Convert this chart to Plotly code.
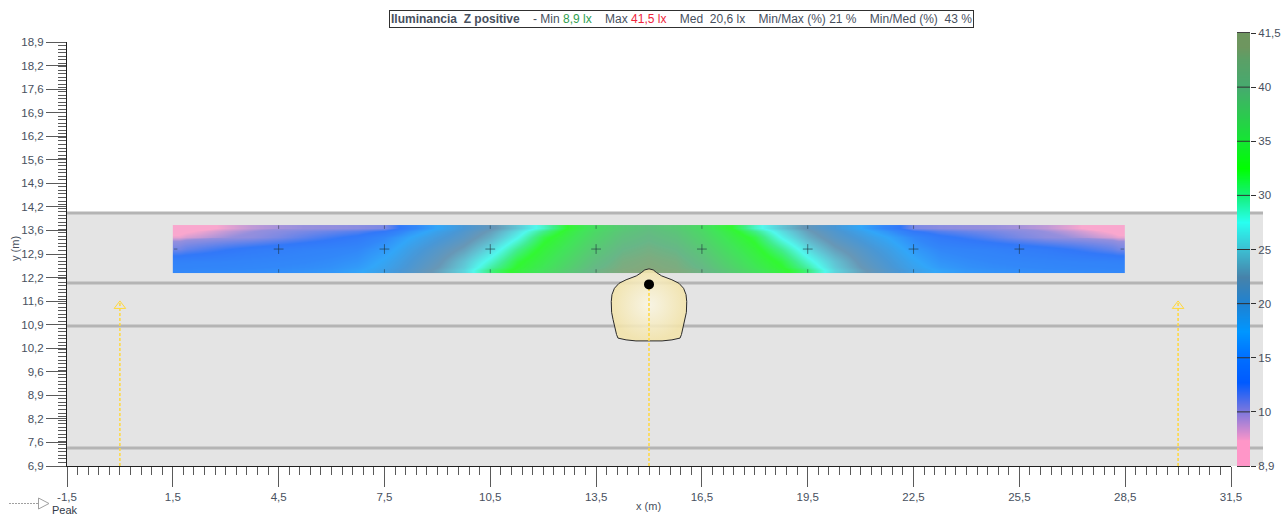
import plotly.graph_objects as go

# ---------- data ----------
x_major = [-1.5, 1.5, 4.5, 7.5, 10.5, 13.5, 16.5, 19.5, 22.5, 25.5, 28.5, 31.5]
x_major_labels = ["-1,5", "1,5", "4,5", "7,5", "10,5", "13,5", "16,5", "19,5", "22,5", "25,5", "28,5", "31,5"]
x_medium = [0, 3, 6, 9, 12, 15, 18, 21, 24, 27, 30]
y_major = [6.9, 7.567, 8.233, 8.9, 9.567, 10.233, 10.9, 11.567, 12.233, 12.9, 13.567,
           14.233, 14.9, 15.567, 16.233, 16.9, 17.567, 18.233, 18.9]
y_major_labels = ["6,9", "7,6", "8,2", "8,9", "9,6", "10,2", "10,9", "11,6", "12,2", "12,9", "13,6",
                  "14,2", "14,9", "15,6", "16,2", "16,9", "17,6", "18,2", "18,9"]
y_medium = [7.233, 7.9, 8.567, 9.233, 9.9, 10.567, 11.233, 11.9, 12.567, 13.233, 13.9,
            14.567, 15.233, 15.9, 16.567, 17.233, 17.9, 18.567]

road_top = 14.06
road_bottom = 6.9
road_lines = [14.06, 12.08, 10.86, 7.41]

grid_x = [1.5, 2.25, 3, 3.75, 4.5, 5.25, 6, 6.75, 7.5, 8.25, 9, 9.75, 10.5, 11.25, 12, 12.75, 13.5, 14.25, 15,
          15.75, 16.5, 17.25, 18, 18.75, 19.5, 20.25, 21, 21.75, 22.5, 23.25, 24, 24.75, 25.5, 26.25, 27, 27.75, 28.5]
grid_y = [12.36, 12.70, 13.04, 13.38, 13.72]
# Left half, x = 1.5 ... 15; the calculation grid is symmetric about x = 15
row_1236 = [15.0, 15.1, 15.2, 15.3, 15.5, 15.8, 16.2, 17.2, 18.8, 20.8, 23.0, 25.8, 30.5, 33.2, 35.5, 38.0, 40.3, 41.2, 41.5]
row_1270 = [14.2, 14.3, 14.4, 14.6, 14.8, 15.0, 15.4, 16.0, 17.8, 20.0, 22.0, 24.8, 28.2, 32.0, 34.3, 36.8, 39.3, 40.8, 41.2]
row_1304 = [11.0, 11.8, 12.6, 13.3, 13.8, 14.2, 14.5, 15.0, 16.5, 19.0, 21.0, 23.0, 26.0, 30.0, 33.2, 35.6, 38.2, 40.0, 40.6]
row_1338 = [9.5, 9.7, 9.95, 10.2, 10.8, 11.6, 12.4, 13.2, 15.0, 17.5, 19.5, 21.3, 23.8, 27.3, 31.8, 34.4, 37.0, 39.0, 39.8]
row_1372 = [8.9, 9.2, 9.5, 9.75, 9.9, 10.0, 10.1, 10.3, 10.7, 14.5, 17.5, 20.0, 22.0, 25.0, 28.5, 33.0, 36.0, 38.0, 39.0]

points_x = [4.5, 7.5, 10.5, 13.5, 16.5, 19.5, 22.5, 25.5]
points_y = [13.04] * 8
edge_ticks_x = [1.58, 28.42]

scale_values = [8.9, 9.4, 10, 12.75, 15, 17.5, 20, 22.5, 25, 27.5, 30, 32.5, 35, 40, 41.5]
scale_colors = ["#ff96c8", "#ff96c8", "#8078dc", "#005aff", "#006eff", "#0096ff", "#1e82d2", "#4682aa",
                "#3cbed2", "#28fff0", "#14f078", "#00ff00", "#14e632", "#46aa6e", "#6e965f"]
bar_values = [8.9, 10, 15, 20, 25, 30, 35, 40, 41.5]
bar_labels = ["8,9", "10", "15", "20", "25", "30", "35", "40", "41,5"]
bar_positions = [0, 1, 2, 3, 4, 5, 6, 7, 8]

peak_x = [15.0, 14.88, 14.78, 14.64, 14.35, 14.15, 14.02, 13.95, 13.93, 13.94, 13.98, 14.01, 14.05, 14.08, 14.12, 14.35, 14.63, 15.0,
          15.37, 15.65, 15.88, 15.92, 15.95, 15.99, 16.02, 16.06, 16.07, 16.05, 15.98, 15.85, 15.65, 15.36, 15.22, 15.12, 15.0]
peak_y = [12.48, 12.45, 12.37, 12.28, 12.17, 12.07, 11.93, 11.75, 11.55, 11.25, 11.05, 10.9, 10.75, 10.62, 10.52, 10.47, 10.44, 10.45,
          10.44, 10.47, 10.52, 10.62, 10.75, 10.9, 11.05, 11.25, 11.55, 11.75, 11.93, 12.07, 12.17, 12.28, 12.37, 12.45, 12.48]
peak_dot = (15.0, 12.04)
arrow_x = [0.0, 30.0]
arrow_tip_y = 11.57
arrow_head_y = 11.43

# ---------- page geometry ----------
W, H = 1286, 516
L, R, T, B = 67, 1263, 33, 466
def px(v): return (v - L) / (R - L)
def py(v): return (B - v) / (B - T)

def edges(c):
    return [c[0]] + [(a + b) / 2 for a, b in zip(c, c[1:])] + [c[-1]]

def sym(row):
    return row + row[-2::-1]

lo, hi = scale_values[0], scale_values[-1]
colorscale = [[(v - lo) / (hi - lo), c] for v, c in zip(scale_values, scale_colors)]
z_rows = [sym(r) for r in (row_1236, row_1270, row_1304, row_1338, row_1372)]

AX = "#5a5a5a"
TXT = "#47505e"
YEL = "#ffd83c"
fig = go.Figure()

fig.add_trace(go.Heatmap(x=edges(grid_x), y=edges(grid_y), z=z_rows, zmin=lo, zmax=hi, zsmooth="best",
                         colorscale=colorscale, showscale=False, opacity=0.78, hoverinfo="skip"))
fig.add_trace(go.Scatter(x=points_x, y=points_y, mode="markers", hoverinfo="skip",
                         marker=dict(symbol="cross-thin", size=7, line=dict(width=1, color="rgba(30,50,60,0.6)"))))
for yy in (grid_y[0] + 0.06, grid_y[-1] - 0.06):
    fig.add_trace(go.Scatter(x=points_x, y=[yy] * len(points_x), mode="markers", hoverinfo="skip",
                             marker=dict(symbol="line-ns", size=2.5, line=dict(width=1, color="rgba(30,50,60,0.5)"))))
fig.add_trace(go.Scatter(x=edge_ticks_x, y=[13.04, 13.04], mode="markers", hoverinfo="skip",
                         marker=dict(symbol="line-ew", size=2.5, line=dict(width=1, color="rgba(30,50,60,0.5)"))))
fig.add_trace(go.Scatter(x=peak_x, y=peak_y, mode="lines", fill="toself", hoverinfo="skip",
                         line=dict(color="#2a2a2a", width=1),
                         fillgradient=dict(type="radial", colorscale=[[0, "rgba(250,246,228,0.88)"], [1, "rgba(243,228,170,0.88)"]])))
for ax_x in arrow_x:
    fig.add_trace(go.Scatter(x=[ax_x, ax_x], y=[road_bottom, arrow_tip_y], mode="lines", hoverinfo="skip",
                             line=dict(color=YEL, width=1.5, dash="3px,2px")))
    fig.add_trace(go.Scatter(x=[ax_x], y=[arrow_head_y], mode="markers", hoverinfo="skip",
                             marker=dict(symbol="triangle-up-open", size=10, color=YEL, line=dict(width=1, color=YEL))))
fig.add_trace(go.Scatter(x=[peak_dot[0], peak_dot[0]], y=[road_bottom, peak_dot[1]], mode="lines", hoverinfo="skip",
                         line=dict(color=YEL, width=1.5, dash="3px,2px")))
fig.add_trace(go.Scatter(x=[peak_dot[0]], y=[peak_dot[1]], mode="markers", hoverinfo="skip",
                         marker=dict(size=10, color="black")))

# vertical scale: its nine labelled levels are evenly spaced
fig.add_trace(go.Heatmap(x=[0, 0.5, 1], y=edges(bar_positions), z=[[v, v] for v in bar_values],
                         zmin=lo, zmax=hi, zsmooth="best", colorscale=colorscale, showscale=False,
                         xaxis="x3", yaxis="y3", hoverinfo="skip"))

shapes = [dict(type="rect", xref="paper", yref="y", x0=0, x1=1, y0=road_bottom, y1=road_top,
               fillcolor="#e4e4e4", line_width=0, layer="below")]
for yy in road_lines:
    shapes.append(dict(type="line", xref="paper", yref="y", x0=0, x1=1, y0=yy, y1=yy,
                       line=dict(color="#b4b4b4", width=3), layer="below"))
for p in bar_positions[1:-1]:
    shapes.append(dict(type="line", xref="x3", yref="y3", x0=0, x1=1, y0=p, y1=p,
                       line=dict(color="#303030", width=1), layer="above"))
# Peak key
shapes.append(dict(type="line", xref="paper", yref="paper", x0=px(9), x1=px(38), y0=py(503.5), y1=py(503.5),
                   line=dict(color="#a0a0a0", width=1, dash="2px,1px")))
shapes.append(dict(type="path", xref="paper", yref="paper",
                   path=f"M {px(38.5)} {py(498)} L {px(49)} {py(503.5)} L {px(38.5)} {py(509)} Z",
                   line=dict(color="#a0a0a0", width=1), fillcolor="white"))

sp = "\u00a0"
title = (f"<b>Iluminancia{sp}{sp}Z positive</b>{sp}{sp}{sp}{sp}- Min <span style='color:#2e9e4f'>8,9 lx</span>{sp}{sp}{sp}{sp}"
         f"Max <span style='color:#f0243c'>41,5 lx</span>{sp}{sp}{sp}{sp}Med{sp}{sp}20,6 lx{sp}{sp}{sp}{sp}"
         f"Min/Max (%) 21 %{sp}{sp}{sp}{sp}Min/Med (%){sp}{sp}43 %")

annotations = [
    dict(xref="paper", yref="paper", x=px(681.5), y=py(19), text=title, showarrow=False, xanchor="center", yanchor="middle",
         bgcolor="white", bordercolor="#303030", borderwidth=1, borderpad=1, font=dict(size=12, color=TXT)),
    dict(xref="paper", yref="paper", x=px(50), y=py(510), text="Peak", showarrow=False, xanchor="left", yanchor="middle",
         font=dict(size=11, color="#303a48")),
    dict(xref="paper", yref="paper", x=px(648), y=py(506), text="x (m)", showarrow=False, xanchor="center", yanchor="middle",
         font=dict(size=11, color=TXT)),
    dict(xref="paper", yref="paper", x=px(15), y=py(249), text="y (m)", showarrow=False, textangle=-90, xanchor="center", yanchor="middle",
         font=dict(size=11, color=TXT)),
]

tick_font = dict(family="Liberation Sans", size=11.5, color=TXT)
xdom = [0, (1231 - L) / (R - L)]
ydom = [0, (466 - 42) / (B - T)]
x_rng = [-1.5, 31.5]
y_rng = [6.9, 18.9]

fig.update_layout(
    width=W, height=H, autosize=False, showlegend=False,
    margin=dict(l=L, r=W - R, t=T, b=H - B, pad=0),
    paper_bgcolor="white", plot_bgcolor="rgba(0,0,0,0)",
    font=dict(family="Liberation Sans", size=11, color=TXT),
    shapes=shapes, annotations=annotations,
    xaxis=dict(domain=xdom, range=x_rng, anchor="y", automargin=False, showgrid=False, zeroline=False, showline=True, linecolor="#202020", linewidth=1,
               tickmode="array", tickvals=x_major, ticktext=x_major_labels, ticks="outside", ticklen=20, tickwidth=1, tickcolor=AX,
               tickfont=tick_font, minor=dict(tickmode="linear", tick0=-1.5, dtick=0.3, ticks="outside", ticklen=8, tickwidth=1, tickcolor=AX, showgrid=False)),
    yaxis=dict(domain=ydom, range=y_rng, anchor="x", automargin=False, showgrid=False, zeroline=False, showline=True, linecolor="#202020", linewidth=1,
               tickmode="array", tickvals=y_major, ticktext=y_major_labels, ticks="outside", ticklen=20, tickwidth=1, tickcolor=AX,
               tickfont=tick_font, minor=dict(tickmode="linear", tick0=6.9, dtick=0.1, ticks="outside", ticklen=8, tickwidth=1, tickcolor=AX, showgrid=False)),
    xaxis2=dict(overlaying="x", anchor="y", side="bottom", range=x_rng, domain=xdom, automargin=False, showgrid=False, zeroline=False, showline=False,
                tickmode="array", tickvals=x_medium, ticks="outside", ticklen=14, tickwidth=1, tickcolor=AX, showticklabels=False),
    yaxis2=dict(overlaying="y", anchor="x", side="left", range=y_rng, domain=ydom, automargin=False, showgrid=False, zeroline=False, showline=False,
                tickmode="array", tickvals=y_medium, ticks="outside", ticklen=14, tickwidth=1, tickcolor=AX, showticklabels=False),
    xaxis3=dict(domain=[px(1237), px(1250)], range=[0, 1], anchor="y3", automargin=False, showgrid=False, zeroline=False, showticklabels=False, ticks="",
                showline=True, mirror=True, linecolor="#404040", linewidth=1),
    yaxis3=dict(domain=[0, 1], range=[0, 8], anchor="x3", side="right", automargin=False, showgrid=False, zeroline=False, mirror=False,
                showline=False, tickmode="array", tickvals=bar_positions, ticktext=bar_labels, ticks="outside", ticklen=5, tickwidth=1,
                tickcolor="#303030", tickfont=tick_font),
)

fig.write_html("out.html", config=dict(displayModeBar=False), post_script="document.body.style.margin='0';")
